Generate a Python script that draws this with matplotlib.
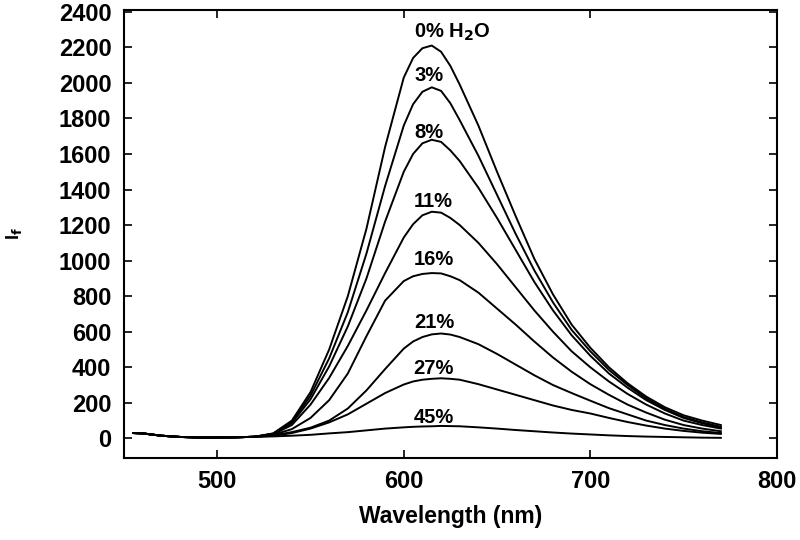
"""
Fluorescence emission spectra vs. water content.
"""

import matplotlib as mpl
import matplotlib.pyplot as plt

# ---------------------------------------------------------------------------
# Data
# ---------------------------------------------------------------------------

WAVELENGTH = [455, 460, 470, 480, 490, 500, 510, 520, 530, 540, 550, 560,
              570, 580, 590, 600, 605, 610, 615, 620, 625, 630, 640, 650,
              660, 670, 680, 690, 700, 710, 720, 730, 740, 750, 760, 770]

LABELS = ['0% H$_\\mathbf{2}$O', '3%', '8%', '11%', '16%', '21%', '27%', '45%']

IF_00 = [30, 28, 15, 8, 5, 5, 6, 9, 28, 100, 260, 500, 800, 1180, 1640, 2030,
         2140, 2195, 2210, 2175, 2095, 1990, 1760, 1500, 1250, 1010, 810,
         640, 510, 400, 310, 235, 175, 130, 100, 75]
IF_03 = [30, 28, 15, 8, 5, 5, 6, 9, 27, 93, 240, 450, 710, 1040, 1420, 1760,
         1880, 1950, 1975, 1955, 1885, 1790, 1590, 1370, 1150, 945, 765,
         610, 490, 385, 300, 225, 165, 120, 90, 65]
IF_08 = [30, 28, 15, 8, 5, 5, 6, 9, 25, 86, 220, 405, 630, 900, 1220, 1500,
         1600, 1660, 1680, 1668, 1620, 1560, 1410, 1240, 1060, 880, 720,
         580, 465, 365, 285, 215, 160, 115, 85, 60]
IF_11 = [30, 28, 15, 8, 5, 5, 6, 9, 23, 75, 190, 340, 520, 720, 930, 1130,
         1205, 1255, 1275, 1270, 1240, 1200, 1100, 980, 850, 720, 600, 490,
         400, 320, 250, 190, 140, 100, 75, 55]
IF_16 = [30, 28, 15, 8, 5, 5, 6, 9, 20, 52, 115, 215, 365, 575, 775, 885,
         912, 925, 930, 928, 912, 890, 820, 730, 640, 545, 455, 375, 305,
         245, 190, 145, 105, 75, 55, 40]
IF_21 = [30, 28, 15, 8, 5, 5, 6, 9, 17, 35, 60, 100, 168, 270, 390, 505,
         545, 570, 585, 590, 584, 570, 530, 475, 415, 355, 300, 255, 212,
         170, 135, 100, 75, 55, 40, 30]
IF_27 = [30, 28, 15, 8, 5, 5, 6, 9, 14, 30, 55, 90, 135, 195, 255, 303,
         320, 330, 335, 338, 335, 330, 305, 275, 245, 215, 185, 160, 140,
         115, 92, 72, 55, 42, 32, 25]
IF_45 = [30, 28, 15, 8, 5, 5, 6, 9, 11, 15, 20, 28, 35, 45, 55, 62, 65, 67,
         68, 70, 69, 68, 62, 55, 47, 40, 33, 27, 22, 17, 13, 10, 8, 6, 4, 3]

SERIES = [IF_00, IF_03, IF_08, IF_11, IF_16, IF_21, IF_27, IF_45]

# label anchor positions (wavelength, intensity) of each curve caption
LABEL_X = [626, 613.5, 613.5, 616, 616, 616.5, 616, 616]
LABEL_Y = [2287, 2039, 1718, 1330, 1008, 654, 394, 118]

X_TICKS = [500, 600, 700, 800]
Y_TICKS = list(range(0, 2401, 200))


# ---------------------------------------------------------------------------
# Figure
# ---------------------------------------------------------------------------

def main():
    mpl.rcParams['font.family'] = ['Liberation Sans', 'DejaVu Sans']
    mpl.rcParams['font.weight'] = 'bold'
    mpl.rcParams['mathtext.default'] = 'bf'

    fig = plt.figure(figsize=(8, 5.4), dpi=100)
    ax = fig.add_axes([0.155, 0.152, 0.816, 0.8295])

    for ys in SERIES:
        ax.plot(WAVELENGTH, ys, color='black', lw=1.4)

    for lab, lx, ly in zip(LABELS, LABEL_X, LABEL_Y):
        ax.text(lx, ly, lab, ha='center', va='center',
                fontsize=14.5, fontweight='bold')

    ax.set_xlim(450, 800)
    ax.set_ylim(-110, 2410)
    ax.set_xticks(X_TICKS)
    ax.set_yticks(Y_TICKS)
    ax.tick_params(direction='in', top=True, right=True, length=6,
                   width=1.2, labelsize=17, pad=9)
    for lbl in ax.get_xticklabels() + ax.get_yticklabels():
        lbl.set_fontweight('bold')
    for sp in ax.spines.values():
        sp.set_linewidth(1.5)

    ax.set_xlabel('Wavelength (nm)', fontsize=16.5, fontweight='bold',
                  labelpad=8)
    ax.set_ylabel('I$_\\mathbf{f}$', fontsize=13, fontweight='bold',
                  va='center')
    ax.yaxis.set_label_coords(-0.168, 0.5)

    fig.savefig('out.png', dpi=100)


if __name__ == '__main__':
    main()
